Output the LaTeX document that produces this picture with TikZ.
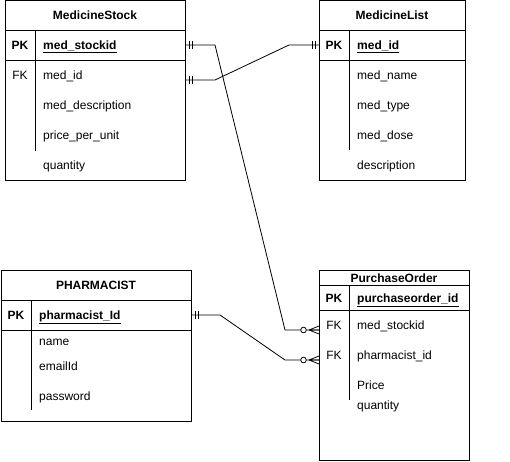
\documentclass[tikz,border=0pt]{standalone}
\usepackage{fontspec}
\setmainfont{Liberation Sans}
\begin{document}
\begin{tikzpicture}[x=1pt,y=-1pt,
  every node/.style={font=\fontsize{12pt}{14pt}\selectfont},
  ent/.style={draw, line width=0.8pt, anchor=north west, inner sep=0pt, outer sep=0pt},
  rowbox/.style={inner sep=0pt, outer sep=0pt, minimum height=10pt},
  ttl/.style={font=\fontsize{12pt}{14pt}\selectfont\bfseries, anchor=mid, yshift=-1.5pt},
  keyt/.style={anchor=mid, yshift=-1.5pt},
  fld/.style={anchor=mid west, inner sep=0pt, yshift=-1.5pt},
  sep/.style={line width=0.8pt},
  conn/.style={line width=0.8pt},
  one/.pic={\draw[line width=0.8pt] (4,-4)--(4,4) (7,-4)--(7,4);},
  zmany/.pic={\draw[line width=0.8pt] (-10,0)--(0,-4) (-10,0)--(0,4) (-10,0)--(0,0);
              \draw[line width=0.8pt, fill=white] (-15.5,0) circle (2.8);}
]
\useasboundingbox (0,0) rectangle (510,461);

% ---------- MedicineStock ----------
\node[ent, minimum width=180pt, minimum height=180pt] (ms) at (5,0) {};
\draw[sep] (5,30) -- (185,30) (5,60) -- (185,60) (35,30) -- (35,151);
\node[ttl] (mst) at (95,15) {MedicineStock};
\node[keyt] (mspkk) at (20,45) {\bfseries PK};
\node[fld] (mspkf) at (43,45) {\bfseries\underline{med\_stockid}};
\node[keyt] (msfkk) at (20,75) {FK};
\node[fld] (msf1) at (43,75) {med\_id};
\node[fld] (msf2) at (43,105) {med\_description};
\node[fld] (msf3) at (43,135) {price\_per\_unit};
\node[fld] (msf4) at (43,165) {quantity};
\node[rowbox, minimum width=180pt] (mspk) at (95,45) {};
\node[rowbox, minimum width=180pt] (msfk) at (95,80) {};

% ---------- MedicineList ----------
\node[ent, minimum width=146pt, minimum height=180pt] (ml) at (319,0) {};
\draw[sep] (319,30) -- (465,30) (319,60) -- (465,60) (349,30) -- (349,150);
\node[ttl] (mlt) at (392,15) {MedicineList};
\node[keyt] (mlpkk) at (334,45) {\bfseries PK};
\node[fld] (mlpkf) at (357,45) {\bfseries\underline{med\_id}};
\node[fld] (mlf1) at (357,75) {med\_name};
\node[fld] (mlf2) at (357,105) {med\_type};
\node[fld] (mlf3) at (357,135) {med\_dose};
\node[fld] (mlf4) at (357,165) {description};
\node[rowbox, minimum width=146pt] (mlpk) at (392,45) {};

% ---------- PHARMACIST ----------
\node[ent, minimum width=190pt, minimum height=151pt] (ph) at (1,270) {};
\draw[sep] (1,300) -- (191,300) (1,330) -- (191,330) (31,300) -- (31,410);
\node[ttl] (pht) at (96,285) {PHARMACIST};
\node[keyt] (phpkk) at (16,315) {\bfseries PK};
\node[fld] (phpkf) at (39,315) {\bfseries\underline{pharmacist\_Id}};
\node[fld] (phf1) at (39,341) {name};
\node[fld] (phf2) at (39,366) {emailId};
\node[fld] (phf3) at (39,396) {password};
\node[rowbox, minimum width=190pt] (phpk) at (96,315) {};

% ---------- PurchaseOrder ----------
\node[ent, minimum width=150pt, minimum height=190pt] (po) at (319,270) {};
\draw[sep] (319,285) -- (469,285) (319,310) -- (469,310) (349,285) -- (349,400);
\node[ttl] (pot) at (394,278.5) {PurchaseOrder};
\node[keyt] (popkk) at (334,298) {\bfseries PK};
\node[fld] (popkf) at (357,298) {\bfseries\underline{purchaseorder\_id}};
\node[keyt] (pofk1) at (334,325) {FK};
\node[fld] (pof1) at (357,325) {med\_stockid};
\node[keyt] (pofk2) at (334,355) {FK};
\node[fld] (pof2) at (357,355) {pharmacist\_id};
\node[fld] (pof3) at (357,385) {Price};
\node[fld] (pof4) at (357,405) {quantity};
\node[rowbox, minimum width=150pt] (poms) at (394,330) {};
\node[rowbox, minimum width=150pt] (poph) at (394,360) {};

% ---------- connectors ----------
\draw[conn] (mspk.east) -- ++(30,0) -- (285,330) -- (poms.west);
\draw[conn] (msfk.east) -- ++(30,0) -- (289,45) -- (mlpk.west);
\draw[conn] (phpk.east) -- ++(29,0) -- (285,360) -- (poph.west);

\pic at (mspk.east) {one};
\pic at (msfk.east) {one};
\pic[xscale=-1] at (mlpk.west) {one};
\pic at (phpk.east) {one};
\pic at (poms.west) {zmany};
\pic at (poph.west) {zmany};
\end{tikzpicture}
\end{document}
